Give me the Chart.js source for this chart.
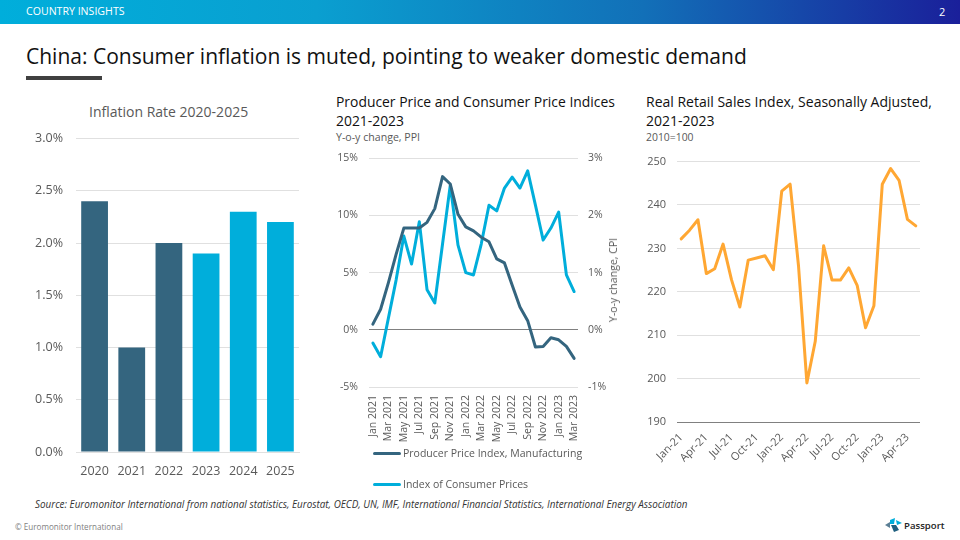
<!DOCTYPE html>
<html>
<head>
<meta charset="utf-8">
<script src="https://cdn.jsdelivr.net/npm/chart.js@4"></script>
<style>
body { margin: 0; background: #fff; font-family: "Open Sans", sans-serif; }
#page { position: relative; width: 960px; height: 540px; overflow: hidden; }
#page div, #page canvas, #page svg { position: absolute; white-space: nowrap; }
#topbar { left: 0; top: 0; width: 960px; height: 24px; background: linear-gradient(90deg, #00AEDB 0%, #0A9FD0 33%, #1270B8 67%, #1A1F9A 100%); }
#section { left: 26px; top: 4px; font-size: 10.6px; color: #fff; }
#pagenum { left: 939px; top: 4px; font-size: 11px; color: #fff; }
#headline { left: 26px; top: 42px; font-size: 21px; color: #111; }
#rule { left: 26px; top: 76px; width: 76px; height: 4px; background: #404040; }
.chartTitle { font-size: 14px; color: #111; line-height: 19px; }
.subTitle { font-size: 10.6px; color: #595959; }
.legendLine { left: 373px; width: 28px; height: 3px; border-radius: 2px; }
.legendText { left: 403px; font-size: 10.5px; color: #595959; }
#source { left: 35px; top: 497px; font-size: 9.9px; font-style: italic; color: #333; }
#copyright { left: 15px; top: 521px; font-size: 8.1px; color: #7f7f7f; }
#brand { left: 904px; top: 519px; font-size: 9.6px; font-weight: 600; color: #222; }
</style>
</head>
<body>
<div id="page">
    <div id="topbar"></div>
    <div id="section">COUNTRY INSIGHTS</div>
    <div id="pagenum">2</div>
    <div id="headline">China: Consumer inflation is muted, pointing to weaker domestic demand</div>
    <div id="rule"></div>

    <div class="chartTitle" style="left:89px;top:102px;color:#595959;">Inflation Rate 2020-2025</div>
    <canvas id="inflationChart" style="left:30px;top:118px;"></canvas>

    <div class="chartTitle" style="left:336px;top:92px;font-size:13.9px;">Producer Price and Consumer Price Indices<br>2021-2023</div>
    <div class="subTitle" style="left:336px;top:130px;">Y-o-y change, PPI</div>
    <canvas id="priceChart" style="left:335px;top:141px;"></canvas>
    <div class="subTitle" style="left:613px;top:280px;transform:translate(-50%,-50%) rotate(-90deg);">Y-o-y change, CPI</div>

    <div class="chartTitle" style="left:646px;top:92px;">Real Retail Sales Index, Seasonally Adjusted,<br>2021-2023</div>
    <div class="subTitle" style="left:646px;top:130px;font-size:10.4px;">2010=100</div>
    <canvas id="retailChart" style="left:640px;top:144px;"></canvas>

    <div id="source">Source: Euromonitor International from national statistics, Eurostat, OECD, UN, IMF, International Financial Statistics, International Energy Association</div>
    <div id="copyright">© Euromonitor International</div>
    <svg style="left:885px;top:518px;" width="18" height="14" viewBox="0 0 18 14">
        <polygon points="0,7 5,4 5,10" fill="#5B7F95"/>
        <polygon points="5,2 10,0 9,6 5,6" fill="#00AEDB"/>
        <polygon points="6,7 11,7 14,12 9,14" fill="#1F5F7F"/>
        <polygon points="11,2 17,5 12,7" fill="#00AEDB"/>
    </svg>
    <div id="brand">Passport</div>
</div>

<script>
const DARK_BLUE = '#34657F';
const CYAN = '#00AEDB';
const ORANGE = '#FFA733';
const GRID = '#E0E0E0';
const AXIS = '#808080';
const TEXT = '#595959';
const FONT = '"Open Sans", sans-serif';

const inflationYears = ['2020', '2021', '2022', '2023', '2024', '2025'];
const inflationRates = [2.4, 1.0, 2.0, 1.9, 2.3, 2.2];
const inflationColors = [DARK_BLUE, DARK_BLUE, DARK_BLUE, CYAN, CYAN, CYAN];

const priceMonths = ['Jan 2021', 'Feb 2021', 'Mar 2021', 'Apr 2021', 'May 2021', 'Jun 2021', 'Jul 2021', 'Aug 2021', 'Sep 2021',
    'Oct 2021', 'Nov 2021', 'Dec 2021', 'Jan 2022', 'Feb 2022', 'Mar 2022', 'Apr 2022', 'May 2022', 'Jun 2022',
    'Jul 2022', 'Aug 2022', 'Sep 2022', 'Oct 2022', 'Nov 2022', 'Dec 2022', 'Jan 2023', 'Feb 2023', 'Mar 2023'];
const ppiValues = [0.5, 1.8, 4.1, 6.6, 8.9, 8.9, 8.9, 9.4, 10.6, 13.4, 12.75, 10.1, 9.0, 8.65, 8.1, 7.7, 6.2, 5.85,
    3.9, 2.0, 0.8, -1.5, -1.45, -0.7, -0.87, -1.45, -2.5];
const cpiValues = [-0.23, -0.47, 0.2, 0.87, 1.64, 1.15, 1.89, 0.7, 0.47, 1.5, 2.53, 1.48, 1.0, 0.96, 1.5, 2.18, 2.08, 2.48,
    2.67, 2.48, 2.78, 2.18, 1.57, 1.78, 2.06, 0.96, 0.67];

const retailMonths = ['Jan-21', 'Feb-21', 'Mar-21', 'Apr-21', 'May-21', 'Jun-21', 'Jul-21', 'Aug-21', 'Sep-21', 'Oct-21',
    'Nov-21', 'Dec-21', 'Jan-22', 'Feb-22', 'Mar-22', 'Apr-22', 'May-22', 'Jun-22', 'Jul-22', 'Aug-22',
    'Sep-22', 'Oct-22', 'Nov-22', 'Dec-22', 'Jan-23', 'Feb-23', 'Mar-23', 'Apr-23', 'May-23'];
const retailValues = [232.2, 234.2, 236.6, 224.2, 225.3, 231, 222.8, 216.5, 227.3, 227.8, 228.3, 225.1, 243.2, 244.8, 226,
    199, 208.6, 230.6, 222.7, 222.7, 225.5, 221.5, 211.7, 216.8, 244.8, 248.4, 245.7, 236.7, 235.2];

Chart.defaults.font.family = FONT;
Chart.defaults.color = TEXT;
Chart.defaults.animation = false;
Chart.defaults.responsive = false;
Chart.defaults.plugins.tooltip.enabled = false;
Chart.defaults.elements.line.borderJoinStyle = 'round';
Chart.defaults.elements.line.borderCapStyle = 'round';

function sizeCanvas(id, width, height) {
    const canvas = document.getElementById(id);
    canvas.width = width;
    canvas.height = height;
    canvas.style.width = width + 'px';
    canvas.style.height = height + 'px';
    return canvas;
}

// fixed axis sizes so the plot areas land where the slide has them
const fixWidth = w => scale => { scale.width = w; };
const fixHeight = h => scale => { scale.height = h; };
const everyNth = n => function (value, index) {
    return index % n === 0 ? this.getLabelForValue(value) : null;
};

new Chart(sizeCanvas('inflationChart', 280, 367), {
    type: 'bar',
    data: {
        labels: inflationYears,
        datasets: [{ data: inflationRates, backgroundColor: inflationColors, categoryPercentage: 0.72, barPercentage: 1 }]
    },
    options: {
        layout: { padding: { top: 0, right: 11, bottom: 0, left: 0 } },
        plugins: { legend: { display: false } },
        scales: {
            x: {
                afterFit: fixHeight(33),
                grid: { display: false, drawTicks: false },
                border: { color: GRID },
                ticks: { font: { size: 12.5 }, padding: 12, maxRotation: 0 }
            },
            y: {
                min: 0, max: 3,
                afterFit: fixWidth(46),
                border: { display: false },
                grid: { color: GRID, drawTicks: false },
                ticks: { stepSize: 0.5, font: { size: 12.5 }, padding: 13, callback: v => v.toFixed(1) + '%' }
            }
        }
    }
});

const priceChart = new Chart(sizeCanvas('priceChart', 285, 309), {
    type: 'line',
    data: {
        labels: priceMonths,
        datasets: [
            { label: 'Producer Price Index, Manufacturing', data: ppiValues, yAxisID: 'y', borderColor: DARK_BLUE, borderWidth: 3, pointRadius: 0, tension: 0 },
            { label: 'Index of Consumer Prices', data: cpiValues, yAxisID: 'y1', borderColor: CYAN, borderWidth: 3, pointRadius: 0, tension: 0 }
        ]
    },
    options: {
        layout: { padding: { top: 0, right: 0, bottom: 0, left: 0 } },
        plugins: { legend: { display: false } },
        scales: {
            x: {
                offset: true,
                afterFit: fixHeight(63),
                grid: { display: false, drawTicks: false },
                border: { display: false },
                ticks: { autoSkip: false, minRotation: 90, maxRotation: 90, font: { size: 10.5 }, padding: 8, callback: everyNth(2) }
            },
            y: {
                min: -5, max: 15,
                afterFit: fixWidth(34),
                border: { display: false },
                grid: { drawTicks: false, color: c => c.tick.value === 0 ? AXIS : GRID },
                ticks: { stepSize: 5, font: { size: 10.5 }, padding: 11, callback: v => v + '%' }
            },
            y1: {
                position: 'right',
                min: -1, max: 3,
                afterFit: fixWidth(42),
                border: { display: false },
                grid: { display: false, drawTicks: false },
                ticks: { stepSize: 1, font: { size: 10.5 }, padding: 10, callback: v => v + '%' }
            }
        }
    }
});

// legend sits in two spaced rows starting under the plot, so it is laid out by hand
const legendRows = [454, 485];
priceChart.data.datasets.forEach((dataset, i) => {
    const line = document.createElement('div');
    line.className = 'legendLine';
    line.style.top = (legendRows[i] - 2) + 'px';
    line.style.background = dataset.borderColor;
    const text = document.createElement('div');
    text.className = 'legendText';
    text.style.top = (legendRows[i] - 8) + 'px';
    text.textContent = dataset.label;
    document.getElementById('page').append(line, text);
});

new Chart(sizeCanvas('retailChart', 300, 326), {
    type: 'line',
    data: {
        labels: retailMonths,
        datasets: [{ data: retailValues, borderColor: ORANGE, borderWidth: 3, pointRadius: 0, tension: 0 }]
    },
    options: {
        layout: { padding: { top: 0, right: 20, bottom: 0, left: 0 } },
        plugins: { legend: { display: false } },
        scales: {
            x: {
                offset: true,
                afterFit: fixHeight(48),
                grid: { display: false, drawTicks: false },
                border: { display: false },
                ticks: { autoSkip: false, minRotation: 45, maxRotation: 45, font: { size: 11 }, padding: 9, callback: everyNth(3) }
            },
            y: {
                min: 190, max: 250,
                afterFit: fixWidth(37),
                border: { display: false },
                grid: { drawTicks: false, color: c => c.tick.value === 190 ? AXIS : GRID },
                ticks: { stepSize: 10, font: { size: 11 }, padding: 11 }
            }
        }
    }
});
</script>
</body>
</html>
